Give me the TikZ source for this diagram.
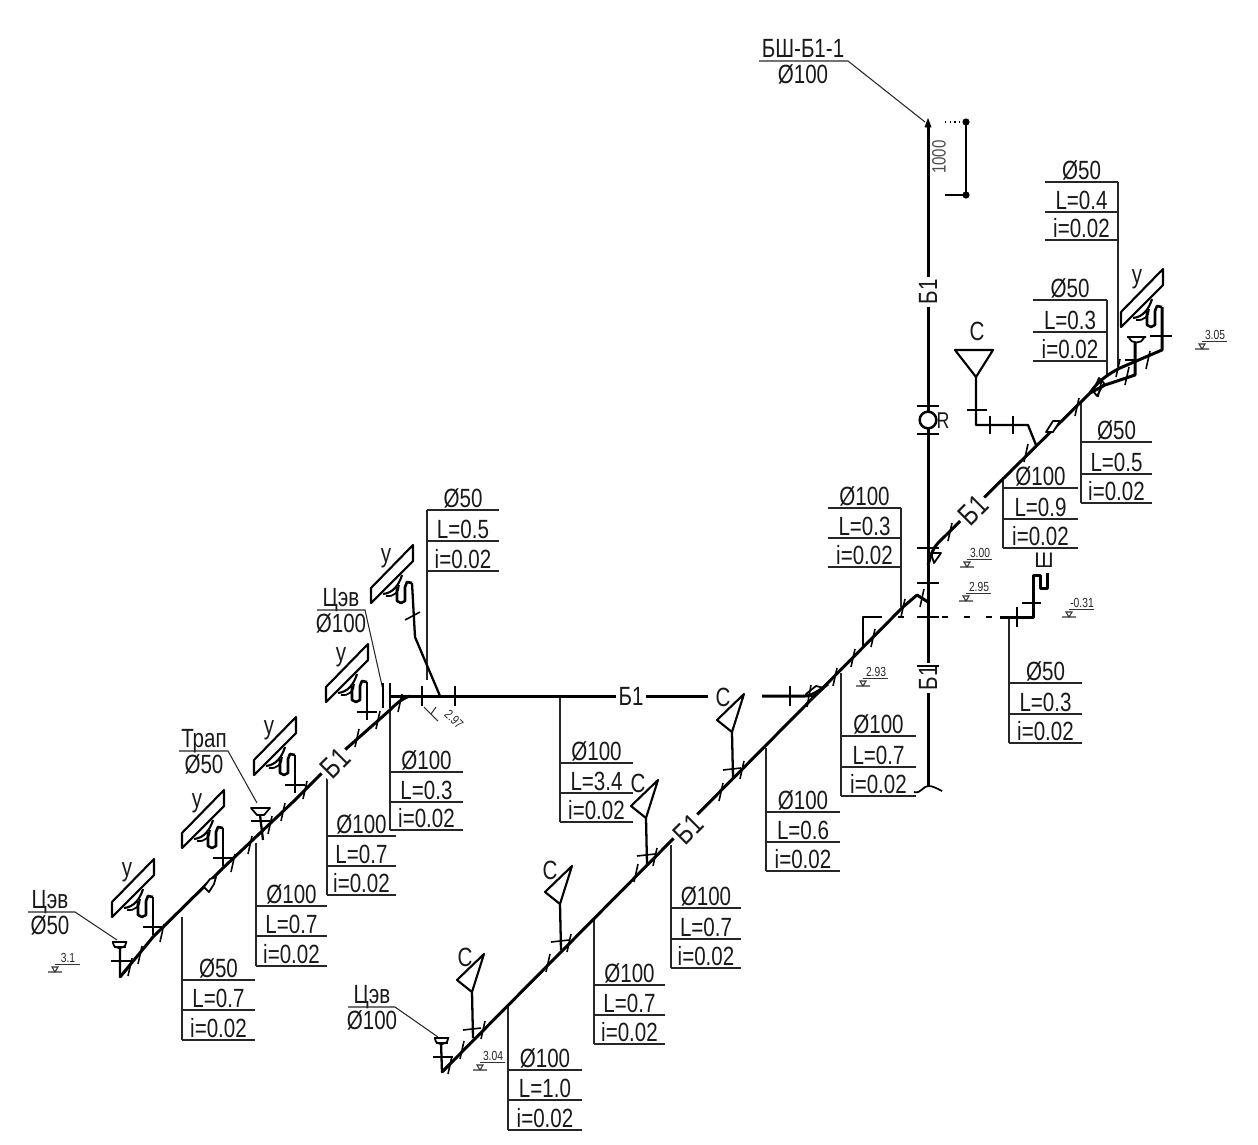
\documentclass[tikz,border=0pt]{standalone}
\usepackage{fontspec}
\setmainfont{Liberation Sans}
\newfontfamily\lbl[FakeStretch=0.78]{Liberation Sans}
\tikzset{
  x=0.02cm,y=-0.02cm,
  pipe/.style={line width=1.7pt,line join=round},
  branch/.style={line width=1.3pt,line join=round},
  tk/.style={line width=0.9pt},
  thinl/.style={line width=0.6pt,black!85},
  rule/.style={line width=0.75pt,black!85},
  fix/.style={line width=1pt,line join=round},
  lab/.style={font=\lbl\fontsize{15}{15}\selectfont,inner sep=0pt,text=black!90},
  onpipe/.style={lab,fill=white,inner sep=1.5pt},
  diagb/.style={onpipe,rotate=45,font=\lbl\fontsize{17}{17}\selectfont},
  small/.style={font=\lbl\fontsize{7.5}{7.5}\selectfont,inner sep=0pt,text=black!85},
  usink/.pic={
    \draw[line width=1.2pt,line join=round] (-41,5)--(1,-38)--(1,-22)--(-41,20)--cycle;
    \draw[line width=1.2pt] (-29,11) .. controls (-19,10) and (-13,2) .. (-10,-8);
    \draw[fix] (-26,13) .. controls (-18,14) and (-13,9) .. (-13,2);
    \draw[line width=1.5pt,line join=round] (0,0)--(-5,-1)--(-7,4)--(-7,18)--(-11,20)--(-15,18)--(-15,4);
  },
  cfun/.pic={
    \draw[line width=1.2pt,line join=round] (-15,-12)--(12,-38)--(0,0)--cycle;
  }
}
% name, xl, xr, y1, y2, y3, three texts
\newcommand{\pipetable}[9]{%
  \coordinate (#1-a) at (#2,#4);
  \coordinate (#1-b) at (#3,#4);
  \draw[rule] (#2,#4)--(#3,#4) (#2,#5)--(#3,#5) (#2,#6)--(#3,#6);
  \node[lab,anchor=base] (#1-1) at ({(#2+#3)/2},#4-3) {#7};
  \node[lab,anchor=base] (#1-2) at ({(#2+#3)/2},#5-3) {#8};
  \node[lab,anchor=base] (#1-3) at ({(#2+#3)/2},#6-3) {#9};
}
% name, x, y (text centre), text
\newcommand{\elevmark}[4]{%
  \node[small] (#1) at (#2,#3) {#4};
  \draw[line width=0.5pt,black!80] (#2-13,#3+6)--(#2+12,#3+6);
  \draw[line width=0.6pt,black!80] (#2-20,#3+14)--(#2-6,#3+14) (#2-13,#3+14)--(#2-16,#3+9)--(#2-10,#3+9)--cycle;
}
\begin{document}
\begin{tikzpicture}
\useasboundingbox (0,0) rectangle (1258,1144);

% ---- leader tables
\pipetable{t1}{1045}{1118}{182}{212}{240}{Ø50}{L=0.4}{i=0.02}
\draw[thinl] (t1-b)--(1118,367);
\pipetable{t2}{1033}{1107}{300}{332}{361}{Ø50}{L=0.3}{i=0.02}
\draw[thinl] (t2-b)--(1107,375);
\pipetable{t3}{1081}{1152}{442}{474}{503}{Ø50}{L=0.5}{i=0.02}
\draw[thinl] (t3-a)--(1081,403) (t3-a)--(1081,503);
\pipetable{t4}{1003}{1078}{488}{519}{548}{Ø100}{L=0.9}{i=0.02}
\draw[thinl] (1003,477)--(1003,548);
\pipetable{t5}{828}{901}{508}{538}{567}{Ø100}{L=0.3}{i=0.02}
\draw[thinl] (t5-b)--(901,607);
\pipetable{t6}{1009}{1082}{683}{714}{743}{Ø50}{L=0.3}{i=0.02}
\draw[thinl] (1009,617)--(1009,743);
\pipetable{t7}{841}{916}{736}{767}{796}{Ø100}{L=0.7}{i=0.02}
\draw[thinl] (841,673)--(841,796);
\pipetable{t8}{766}{840}{812}{842}{871}{Ø100}{L=0.6}{i=0.02}
\draw[thinl] (766,748)--(766,871);
\pipetable{t9}{671}{741}{908}{939}{968}{Ø100}{L=0.7}{i=0.02}
\draw[thinl] (671,845)--(671,968);
\pipetable{t10}{594}{665}{985}{1015}{1044}{Ø100}{L=0.7}{i=0.02}
\draw[thinl] (594,920)--(594,1044);
\pipetable{t11}{508}{582}{1070}{1100}{1130}{Ø100}{L=1.0}{i=0.02}
\draw[thinl] (508,1007)--(508,1130);
\pipetable{t12}{560}{633}{763}{793}{822}{Ø100}{L=3.4}{i=0.02}
\draw[thinl] (560,696)--(560,822);
\pipetable{t13}{427}{499}{510}{541}{571}{Ø50}{L=0.5}{i=0.02}
\draw[thinl] (t13-a)--(427,680);
\pipetable{t14}{390}{463}{772}{802}{830}{Ø100}{L=0.3}{i=0.02}
\draw[thinl] (390,710)--(390,830);
\pipetable{t15}{327}{396}{836}{866}{895}{Ø100}{L=0.7}{i=0.02}
\draw[thinl] (327,768)--(327,895);
\pipetable{t16}{256}{327}{906}{936}{966}{Ø100}{L=0.7}{i=0.02}
\draw[thinl] (256,843)--(256,966);
\pipetable{t17}{182}{255}{980}{1010}{1040}{Ø50}{L=0.7}{i=0.02}
\draw[thinl] (182,917)--(182,1040);

% ---- two-line callouts
\node[lab,anchor=base] (bsh1) at (803,57) {БШ-Б1-1};
\node[lab,anchor=base] (bsh2) at (803,83) {Ø100};
\coordinate (bshend) at (925,122);
\draw[thinl] (759,61)--(848,61)--(bshend);
\node[lab,anchor=base] (ce1) at (50,908) {Цэв};
\node[lab,anchor=base] (ce2) at (50,934) {Ø50};
\draw[thinl] (28,912)--(75,912)--(117,940);
\node[lab,anchor=base] (tr1) at (204,747) {Трап};
\node[lab,anchor=base] (tr2) at (204,773) {Ø50};
\draw[thinl] (179,751)--(228,751)--(257,803);
\node[lab,anchor=base] (cf1) at (372,1003) {Цэв};
\node[lab,anchor=base] (cf2) at (372,1029) {Ø100};
\draw[thinl] (348,1007)--(395,1007)--(438,1037);
\node[lab,anchor=base] (cu1) at (341,606) {Цэв};
\node[lab,anchor=base] (cu2) at (341,632) {Ø100};
\draw[thinl] (317,610)--(365,610)--(383,690);

% ---- main riser
\draw[pipe] (928,125)--(928,787);
\draw[fill=black] (925,127)--(928,119)--(931,127)--cycle;
\draw[fix] (914,792) .. controls (921,794) and (923,786) .. (928,786) .. controls (933,786) and (936,788) .. (942,791);
\node[onpipe,rotate=90] (bv1) at (928,292) {Б1};
\node[onpipe,rotate=90] (bv2) at (928,678) {Б1};
\node[circle,draw,line width=1.4pt,fill=white,minimum size=9.5pt,inner sep=0pt] (rc) at (928,420) {};
\node[lab,font=\lbl\fontsize{13}{13}\selectfont] (rl) at (943,421) {R};
\foreach \y in {406,434,548,583,617,666} \draw[tk] (917,\y)--(939,\y);

% ---- dimension 1000
\coordinate (dt) at (966,122);
\coordinate (db) at (966,195);
\draw[line width=0.8pt] (dt)--(db);
\draw[line width=0.7pt,dotted] (945,122)--(dt);
\draw[line width=0.8pt] (945,195)--(db);
\fill (dt) circle (3.6);
\fill (db) circle (3.6);
\node[small,font=\lbl\fontsize{11}{11}\selectfont,rotate=90,text=black!70] (d1000) at (939,157) {1000};

% ---- upper-right pipe
\draw[pipe] (928,565) .. controls (931,555) and (933,548) .. (938,543) -- (1090,393)
  .. controls (1097,382) and (1108,374) .. (1120,368) -- (1162,350) -- (1162,307);
\draw[pipe] (1090,393)--(1105,385)--(1135,375)--(1135,343);
\draw[fix] (1093,391)--(1099,378)--(1104,383)--(1097,396)--cycle;
\draw[fix] (931,553)--(941,553)--(934,563)--cycle;
\draw[fix,fill=white] (1046,432)--(1053,421)--(1060,421)--(1053,432)--cycle;
\node[diagb] (bd1) at (973,510) {Б1};
\foreach \x/\y in {950/532,1026/453,1077/407,1100/388,1118/368,1127/376,1148/360} \draw[tk] (\x+2,\y-9)--(\x-2,\y+9);
\draw[tk] (1150,336)--(1172,336);
\draw[tk] (1125,360)--(1135,360);
\draw[fix] (1127,337)--(1146,337) (1129,338) .. controls (1131,344) and (1142,344) .. (1144,338);
\pic at (1162,307) {usink};
\node[lab] (uu1) at (1137,279) {у};

% ---- basin branch C top
\node[lab] (cc0) at (977,331) {С};
\draw[line width=1.2pt,line join=round] (955,350)--(993,350)--(976,377)--cycle;
\draw[branch] (976,377)--(976,425)--(1028,425)--(1036,445);
\draw[tk] (967,410)--(987,410);
\draw[tk] (990,416)--(990,434) (1013,416)--(1013,434);

% ---- Sh branch
\draw[line width=0.9pt,dash pattern=on 3.5pt off 9pt] (898,617)--(1000,617);
\draw[pipe] (1000,617)--(1033,617)--(1033,575)--(1040,575)--(1040,588)--(1047,588)--(1047,573);
\draw[tk] (1017,607)--(1017,627);
\draw[tk] (1022,603)--(1041,603);
\node[inner sep=0pt,font=\fontsize{12}{12}\selectfont,text=black!90] (sh) at (1044,560) {Ш};

% ---- left pipe
\draw[pipe] (120,977)--(153,937)--(223,868)--(295,800)--(347,748)--(390,710)
  .. controls (396,704) and (401,699) .. (410,696);
\draw[fix,fill=white] (204,887)--(210,879)--(216,877)--(214,884)--(209,892)--cycle;
\node[diagb] (bd2) at (335,763) {Б1};
\foreach \x/\y in {130/967,140/955,162/933,233/863,250/845,270/825,283/812,305/790,357/738,378/720,400/703} \draw[tk] (\x+2,\y-9)--(\x-2,\y+9);
\foreach \x/\y/\l in {153/897/1,223/828/2,295/755/3,367/682/4} {
  \draw[branch] (\x,\y)--(\x,\y+38);
  \draw[tk] (\x-10,\y+30)--(\x+10,\y+30);
  \pic at (\x,\y) {usink};
  \node[lab] (us\l) at (\x-26,\y-25) {у};
}
% Tsev funnel left
\draw[branch] (120,948)--(120,977)--(128,968);
\draw[tk] (111,961)--(131,961);
\draw[fix] (112,942)--(127,942) (113,943) .. controls (114,950) and (125,950) .. (126,943);
\draw[tk] (114,947)--(126,947);
% Trap
\draw[fix] (251,808)--(270,808)--(264,815)--(257,815)--cycle;
\draw[branch] (260,815)--(263,840);
\draw[tk] (251,821)--(270,821);

% ---- horizontal pipe
\draw[pipe] (390,696)--(708,696);
\draw[pipe] (762,696)--(805,696) .. controls (812,696) and (820,690) .. (828,684);
\draw[fix] (806,694)--(816,686)--(824,688)--(814,697)--cycle;
\node[onpipe] (bh) at (631,696) {Б1};
\draw[line width=1.1pt] (383,683)--(383,708) (390,683)--(390,708);
\foreach \x in {422,455,790} \draw[tk] (\x,686)--(\x,706);
\draw[tk] (811,685)--(807,707);
\draw[branch] (440,696)--(415,637)--(412,583);
\draw[tk] (405,620)--(420,612);
\pic at (412,583) {usink};
\node[lab] (us5) at (386,558) {у};

% ---- bottom pipe
\draw[pipe] (442,1072)--(903,607)--(917,595)--(928,602);
\node[diagb] (bd3) at (688,829) {Б1};
\foreach \x/\y in {450/1065,462/1050,483/1030,548/963,569/943,636/873,655/857,721/792,742/770,835/677,853/658,873/638,903/608,922/598} \draw[tk] (\x+2,\y-9)--(\x-2,\y+9);
\foreach \x/\y/\n/\tx/\ty in {472/992/a/465/957,560/904/b/550/870,646/818/d/638/783,732/732/e/723/697} {
  \pic at (\x,\y) {cfun};
  \draw[branch] (\x,\y)--(\x+1,\y+46);
  \draw[tk] (\x-9,\y+38)--(\x+9,\y+36);
  \node[lab] (cb\n) at (\tx,\ty) {С};
}
% Tsev funnel bottom
\draw[branch] (441,1042)--(442,1072)--(450,1064);
\draw[tk] (433,1057)--(453,1057);
\draw[fix] (434,1038)--(449,1038) (435,1039) .. controls (436,1046) and (447,1046) .. (448,1039);
\draw[tk] (436,1043)--(448,1043);
% stub near riser
\draw[branch] (863,647)--(863,617)--(882,617);

% ---- elevations
\elevmark{e1}{1215}{335}{3.05}
\elevmark{e2}{980}{553}{3.00}
\elevmark{e3}{979}{587}{2.95}
\elevmark{e4}{1082}{603}{-0.31}
\elevmark{e5}{876}{672}{2.93}
\elevmark{e6}{493}{1056}{3.04}
\elevmark{e7}{68}{958}{3.1}
\node[small,rotate=-45] (e8) at (454,719) {2.97};
\draw[line width=0.6pt,black!80] (424,707)--(438,721) (431,714)--(436,707);
\end{tikzpicture}
\end{document}
